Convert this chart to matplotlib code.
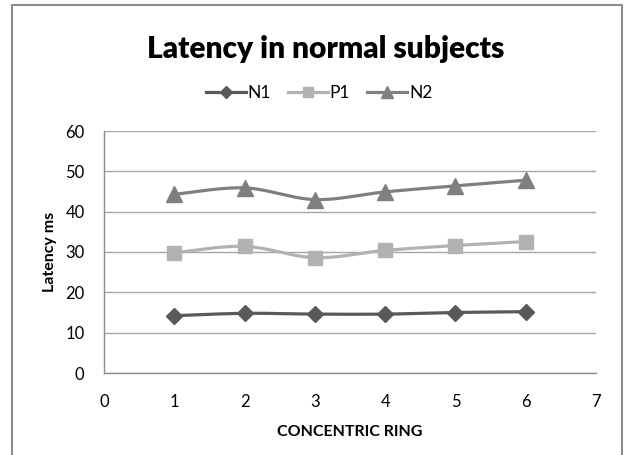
import numpy as np
import matplotlib
matplotlib.use("Agg")
import matplotlib.pyplot as plt
from matplotlib.patches import Rectangle
from matplotlib.lines import Line2D

plt.rcParams['font.family'] = ['Lato', 'DejaVu Sans']

rings = [1, 2, 3, 4, 5, 6]
n1 = [14.2, 14.8, 14.6, 14.6, 15.0, 15.2]
p1 = [29.8, 31.4, 28.6, 30.4, 31.6, 32.6]
n2 = [44.3, 45.9, 43.0, 44.9, 46.4, 47.8]

series_names = ["N1", "P1", "N2"]
colors = ["#595959", "#b2b2b2", "#7f7f7f"]
markers = ["D", "s", "^"]
marker_sizes = [8, 10, 11]


def smooth(x, y, n=30):
    """Catmull-Rom style Bezier smoothing through every point."""
    x = np.asarray(x, float)
    y = np.asarray(y, float)
    px, py = [], []
    m = len(x)
    for i in range(m - 1):
        x0, y0 = (x[i - 1], y[i - 1]) if i > 0 else (x[i], y[i])
        x3, y3 = (x[i + 2], y[i + 2]) if i + 2 < m else (x[i + 1], y[i + 1])
        c1x = x[i] + (x[i + 1] - x0) / 6
        c1y = y[i] + (y[i + 1] - y0) / 6
        c2x = x[i + 1] - (x3 - x[i]) / 6
        c2y = y[i + 1] - (y3 - y[i]) / 6
        t = np.linspace(0, 1, n)
        b0 = (1 - t) ** 3
        b1 = 3 * (1 - t) ** 2 * t
        b2 = 3 * (1 - t) * t ** 2
        b3 = t ** 3
        px.extend(b0 * x[i] + b1 * c1x + b2 * c2x + b3 * x[i + 1])
        py.extend(b0 * y[i] + b1 * c1y + b2 * c2y + b3 * y[i + 1])
    return np.array(px), np.array(py)


fig = plt.figure(figsize=(6.26, 4.55), dpi=100)
W, H = 626, 455

# chart frame
fig.patches.append(Rectangle((12 / W, -0.01), 610 / W, 1 - 5 / H + 0.01,
                             transform=fig.transFigure, fill=False,
                             edgecolor="#8c8c8c", linewidth=1.5))

ax = fig.add_axes([104 / W, 1 - 373 / H, 492 / W, 242 / H])

for name, vals, c, mk, ms in zip(series_names, [n1, p1, n2], colors, markers, marker_sizes):
    sx, sy = smooth(rings, vals)
    ax.plot(sx, sy, color=c, linewidth=2.3, solid_capstyle="round", zorder=3)
    ax.plot(rings, vals, linestyle="none", marker=mk, markersize=ms,
            color=c, markeredgecolor=c, zorder=4)

ax.set_xlim(0, 7)
ax.set_ylim(0, 60)
ax.set_xticks(range(0, 8))
ax.set_yticks(range(0, 61, 10))
ax.yaxis.grid(True, color="#a6a6a6", linewidth=1.0)
ax.set_axisbelow(True)
for s in ["top", "right"]:
    ax.spines[s].set_visible(False)
for s in ["left", "bottom"]:
    ax.spines[s].set_color("#8c8c8c")
    ax.spines[s].set_linewidth(1.0)
ax.tick_params(length=0, labelsize=12, colors="#000000")
ax.tick_params(axis="y", pad=14)
ax.tick_params(axis="x", pad=15)

ax.set_xlabel("CONCENTRIC RING", fontsize=11.5, fontweight="bold", labelpad=11)
ax.set_ylabel("Latency ms", fontsize=11.5, fontweight="bold", labelpad=6)

fig.text(326 / W, 1 - 49 / H, "Latency in normal subjects", fontsize=21.5,
         fontweight="heavy", ha="center", va="center")

handles = [Line2D([0], [0], color=c, marker=mk, markersize=ms * 0.75, linewidth=2.3)
           for c, mk, ms in zip(colors, markers, marker_sizes)]
fig.legend(handles, series_names, loc="center", bbox_to_anchor=(319 / W, 1 - 93 / H),
           ncol=3, frameon=False, fontsize=12.5, handlelength=2.3, handletextpad=0.1,
           columnspacing=1.0)

fig.savefig("out.png", dpi=100)
